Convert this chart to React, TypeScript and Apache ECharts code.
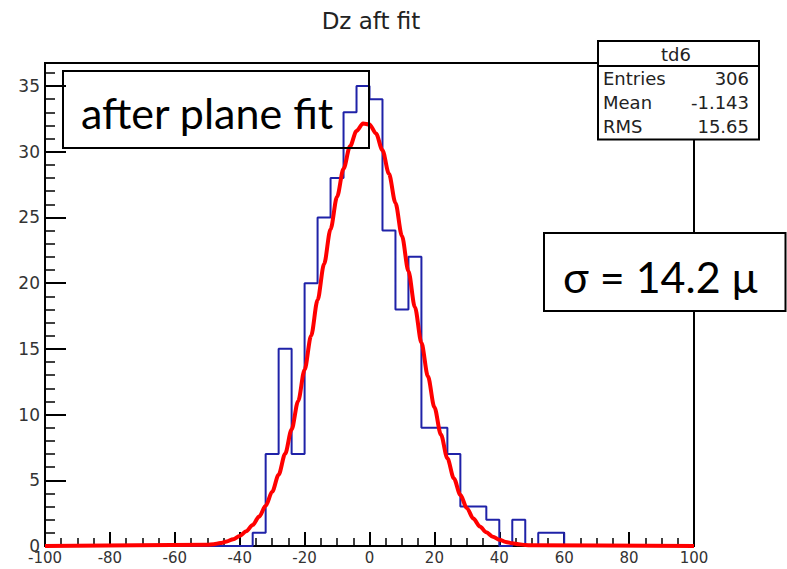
import React, { useEffect, useRef } from "react";
import * as echarts from "echarts";

// Histogram "Dz aft fit": 50 bins of width 4 from -100 to 100
const binStart = -100;
const binWidth = 4;
const binCounts = [
  0, 0, 0, 0, 0, 0, 0, 0, 0, 0, 0, 0, 0, 0, 0, 0,
  1, 7, 15, 7, 20, 25, 28, 33, 35, 34, 24, 18, 22, 9, 9, 7, 3, 3, 2, 0, 2, 0, 1, 1,
  0, 0, 0, 0, 0, 0, 0, 0, 0, 0,
];

// Gaussian fit curve
const fitX = [
  -100, -50, -48, -46, -44, -42, -40, -38, -36, -34, -32, -30, -28, -26, -24, -22, -20, -18, -16, -14, -12, -10,
  -8, -6, -4, -2, 0, 2, 4, 6, 8, 10, 12, 14, 16, 18, 20, 22, 24, 26, 28, 30, 32, 34, 36, 38, 40, 42, 44, 46, 48, 50, 100,
];
const fitY = [
  0, 0.09, 0.14, 0.22, 0.34, 0.52, 0.77, 1.12, 1.6, 2.24, 3.06, 4.12, 5.43, 7.01, 8.87, 11.02, 13.41, 15.99, 18.71, 21.45, 24.11, 26.57,
  28.71, 30.41, 31.58, 32.15, 32.08, 31.39, 30.11, 28.32, 26.1, 23.59, 20.9, 18.16, 15.46, 12.91, 10.56, 8.48, 6.67, 5.14, 3.89, 2.88, 2.09, 1.49, 1.04, 0.71, 0.48, 0.31, 0.2, 0.13, 0.08, 0.05, 0,
];

const titleText = "Dz aft fit";
const statsName = "td6";
const statsLabels = ["Entries", "Mean", "RMS"];
const statsValues = ["306", "-1.143", "15.65"];
const noteText = "after plane fit";
const sigmaText = "σ = 14.2 μ";

const xMin = -100;
const xMax = 100;
const yMax = 36.75;

const ROOT_FONT = '"DejaVu Sans", "Liberation Sans", sans-serif';
const OFFICE_FONT = 'Lato, "Noto Sans", sans-serif';

export default function App() {
  const ref = useRef<HTMLDivElement>(null);

  useEffect(() => {
    if (!ref.current) return;
    const chart = echarts.init(ref.current, undefined, { renderer: "svg" });

    const histData: number[][] = [[binStart, 0]];
    binCounts.forEach((c, i) => {
      const l = binStart + i * binWidth;
      histData.push([l, c], [l + binWidth, c]);
    });
    histData.push([binStart + binCounts.length * binWidth, 0]);

    const fitData = fitX.map((x, i) => [x, fitY[i]]);

    const statsRows: any[] = [];
    statsLabels.forEach((lab, i) => {
      const y = 78 + i * 24;
      statsRows.push(
        {
          type: "text",
          x: 603,
          y,
          z: 101,
          style: { text: lab, font: `18px ${ROOT_FONT}`, fill: "#222", align: "left", verticalAlign: "middle", textAlign: "left", textVerticalAlign: "middle" },
        },
        {
          type: "text",
          x: 749,
          y,
          z: 101,
          style: { text: statsValues[i], font: `18px ${ROOT_FONT}`, fill: "#222", align: "right", verticalAlign: "middle", textAlign: "right", textVerticalAlign: "middle" },
        }
      );
    });

    chart.setOption({
      animation: false,
      backgroundColor: "#fff",
      grid: {
        left: 45,
        top: 63,
        width: 649,
        height: 483,
        show: true,
        borderColor: "#000",
        borderWidth: 2,
        backgroundColor: "transparent",
      },
      xAxis: {
        type: "value",
        min: xMin,
        max: xMax,
        interval: 20,
        axisLine: { show: true, onZero: false, lineStyle: { color: "#000", width: 2 } },
        axisTick: { show: true, inside: true, length: 14, lineStyle: { color: "#000", width: 2 } },
        minorTick: { show: true, splitNumber: 4, length: 8, lineStyle: { color: "#000", width: 1.5 } },
        axisLabel: { margin: 4, fontSize: 15, fontFamily: ROOT_FONT, color: "#333" },
        splitLine: { show: false },
        minorSplitLine: { show: false },
      },
      yAxis: [
        {
          type: "value",
          min: 0,
          max: yMax,
          interval: 5,
          position: "left",
          axisLine: { show: true, onZero: false, lineStyle: { color: "#000", width: 2 } },
          axisTick: { show: true, inside: true, length: 21, lineStyle: { color: "#000", width: 2 } },
          axisLabel: {
            margin: 5,
            fontSize: 17,
            fontFamily: ROOT_FONT,
            color: "#333",
            formatter: (v: number) => (Math.abs(v % 5) < 1e-9 ? String(v) : ""),
          },
          splitLine: { show: false },
        },
        {
          type: "value",
          min: 0,
          max: yMax,
          interval: 1,
          position: "left",
          axisLine: { show: false, onZero: false },
          axisTick: { show: true, inside: true, length: 10, lineStyle: { color: "#000", width: 1.5 } },
          axisLabel: { show: false },
          splitLine: { show: false },
        },
      ],
      series: [
        {
          type: "line",
          data: histData,
          showSymbol: false,
          symbol: "none",
          lineStyle: { color: "#1f22a8", width: 2 },
          z: 3,
        },
        {
          type: "line",
          data: fitData,
          showSymbol: false,
          symbol: "none",
          smooth: 0.3,
          smoothMonotone: "x",
          lineStyle: { color: "#ff0000", width: 4 },
          z: 4,
        },
      ],
      graphic: [
        {
          type: "text",
          x: 371,
          y: 21,
          z: 100,
          style: { text: titleText, font: `23px ${ROOT_FONT}`, fill: "#222", align: "center", verticalAlign: "middle", textAlign: "center", textVerticalAlign: "middle" },
        },
        {
          type: "rect",
          z: 100,
          shape: { x: 598, y: 41, width: 161, height: 98.5 },
          style: { fill: "#fff", stroke: "#000", lineWidth: 2 },
        },
        {
          type: "line",
          z: 101,
          shape: { x1: 598, y1: 66, x2: 759, y2: 66 },
          style: { stroke: "#000", lineWidth: 2 },
        },
        {
          type: "text",
          x: 676,
          y: 54,
          z: 101,
          style: { text: statsName, font: `18px ${ROOT_FONT}`, fill: "#222", align: "center", verticalAlign: "middle", textAlign: "center", textVerticalAlign: "middle" },
        },
        ...statsRows,
        {
          type: "rect",
          z: 100,
          shape: { x: 63, y: 71, width: 306, height: 77 },
          style: { fill: "none", stroke: "#000", lineWidth: 2 },
        },
        {
          type: "text",
          x: 81,
          y: 112,
          z: 101,
          style: { text: noteText, font: `43px ${OFFICE_FONT}`, fill: "#000", align: "left", verticalAlign: "middle", textAlign: "left", textVerticalAlign: "middle" },
        },
        {
          type: "rect",
          z: 100,
          shape: { x: 544, y: 233, width: 241.5, height: 78 },
          style: { fill: "#fff", stroke: "#000", lineWidth: 2 },
        },
        {
          type: "text",
          x: 563,
          y: 276,
          z: 101,
          style: { text: sigmaText, font: `43px ${OFFICE_FONT}`, fill: "#000", align: "left", verticalAlign: "middle", textAlign: "left", textVerticalAlign: "middle" },
        },
      ],
    });

    return () => chart.dispose();
  }, []);

  return (
    <div
      ref={ref}
      style={{ position: "fixed", left: 0, top: 0, width: 787, height: 569, background: "#fff" }}
    />
  );
}
